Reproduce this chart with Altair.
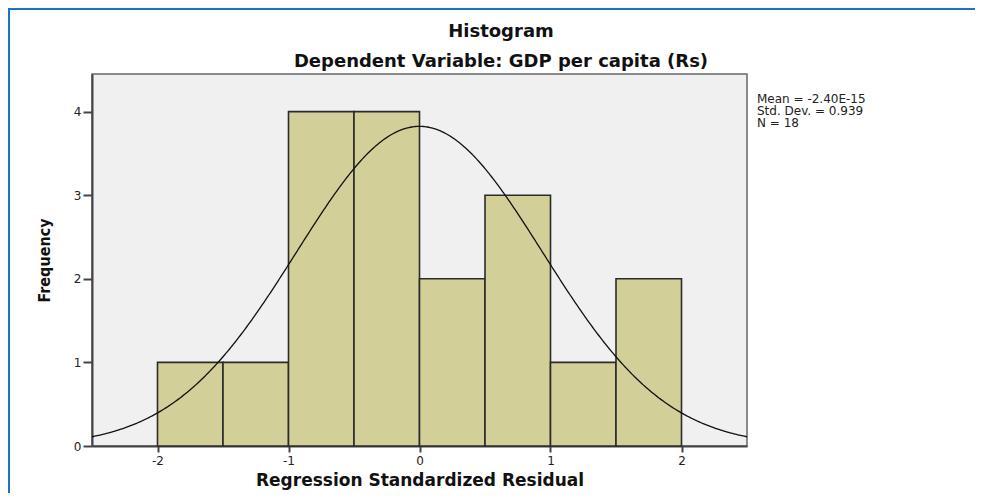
import altair as alt
import pandas as pd

# ---- data ----
bin_start = [-2.0, -1.5, -1.0, -0.5, 0.0, 0.5, 1.0, 1.5]
bin_end = [-1.5, -1.0, -0.5, 0.0, 0.5, 1.0, 1.5, 2.0]
counts = [1, 1, 4, 4, 2, 3, 1, 2]
x_ticks = [-2, -1, 0, 1, 2]
y_ticks = [0, 1, 2, 3, 4]
MEAN = -2.40e-15
SD = 0.939
N = 18
BIN_W = 0.5
title_text = "Histogram"
subtitle_text = "Dependent Variable: GDP per capita (Rs)"
stats_text = f"Mean = -2.40E-15\nStd. Dev. = {SD}\nN = {N}"

bars_df = pd.DataFrame({"start": bin_start, "end": bin_end, "count": counts})

W, H = 655, 372
FONT = "DejaVu Sans"

xscale = alt.Scale(domain=[-2.5, 2.5], nice=False, zero=False)
yscale = alt.Scale(domain=[0, 4.45], nice=False)

xaxis = alt.Axis(
    values=x_ticks, title="Regression Standardized Residual", grid=False,
    domainColor="#444", domainWidth=2, tickColor="#444", tickWidth=2, tickSize=6,
    labelFont=FONT, labelFontSize=12, labelColor="#222", labelPadding=3,
    labelExpr="toString(datum.value)",
    titleFont=FONT, titleFontSize=17, titleFontWeight="bold", titleColor="#111",
    titlePadding=6, labelFlush=False,
)
yaxis = alt.Axis(
    values=y_ticks, title="Frequency", grid=False,
    domainColor="#444", domainWidth=2, tickColor="#444", tickWidth=2, tickSize=9,
    labelFont=FONT, labelFontSize=12, labelColor="#222", labelPadding=2,
    labelExpr="toString(datum.value)",
    titleFont="DejaVu Sans Condensed, DejaVu Sans",
    titleFontSize=16, titleFontWeight="bold", titleColor="#111", titlePadding=21,
)

bars = alt.Chart(bars_df).mark_rect(
    fill="#d3cf99", stroke="#2b2b2b", strokeWidth=1.6
).encode(
    x=alt.X("start:Q", scale=xscale, axis=xaxis),
    x2="end:Q",
    y=alt.Y("count:Q", scale=yscale, axis=yaxis),
    y2=alt.datum(0),
)

curve = alt.Chart(alt.sequence(-2.5, 2.5001, 0.01, as_="x")).transform_calculate(
    d=f"{N}*{BIN_W}/({SD}*sqrt(2*PI))*exp(-0.5*pow((datum.x-({MEAN}))/{SD},2))"
).mark_line(color="#111", strokeWidth=1.3).encode(
    x=alt.X("x:Q", scale=xscale), y=alt.Y("d:Q", scale=yscale)
)

one = pd.DataFrame({"a": [0]})

stats = alt.Chart(pd.DataFrame({"t": [stats_text]})).mark_text(
    align="left", baseline="top", font=FONT, fontSize=12, lineBreak="\n",
    lineHeight=12, color="#222",
).encode(x=alt.value(W + 10), y=alt.value(20), text="t:N")

title = alt.Chart(one).mark_text(
    align="center", baseline="alphabetic", font=FONT, fontSize=18,
    fontWeight="bold", color="#111",
).encode(x=alt.value(409), y=alt.value(-37), text=alt.value(title_text))

subtitle = alt.Chart(one).mark_text(
    align="center", baseline="alphabetic", font=FONT, fontSize=18,
    fontWeight="bold", color="#111",
).encode(x=alt.value(409), y=alt.value(-7), text=alt.value(subtitle_text))

frame_top = alt.Chart(one).mark_rule(color="#1a73c8", strokeWidth=2).encode(
    x=alt.value(-84), x2=alt.value(W + 240), y=alt.value(-65)
)
frame_left = alt.Chart(one).mark_rule(color="#1a73c8", strokeWidth=2).encode(
    x=alt.value(-83), y=alt.value(-66), y2=alt.value(H + 70)
)

chart = alt.layer(bars, curve, stats, title, subtitle, frame_top, frame_left).properties(
    width=W, height=H,
    autosize=alt.AutoSizeParams(type="none"),
    padding={"left": 84, "top": 66, "right": 228, "bottom": 47},
    background="white",
).configure_view(fill="#f0f0f0", stroke="#666", strokeWidth=1.5)

chart.save("out.html", embed_options={"renderer": "svg", "actions": False})
